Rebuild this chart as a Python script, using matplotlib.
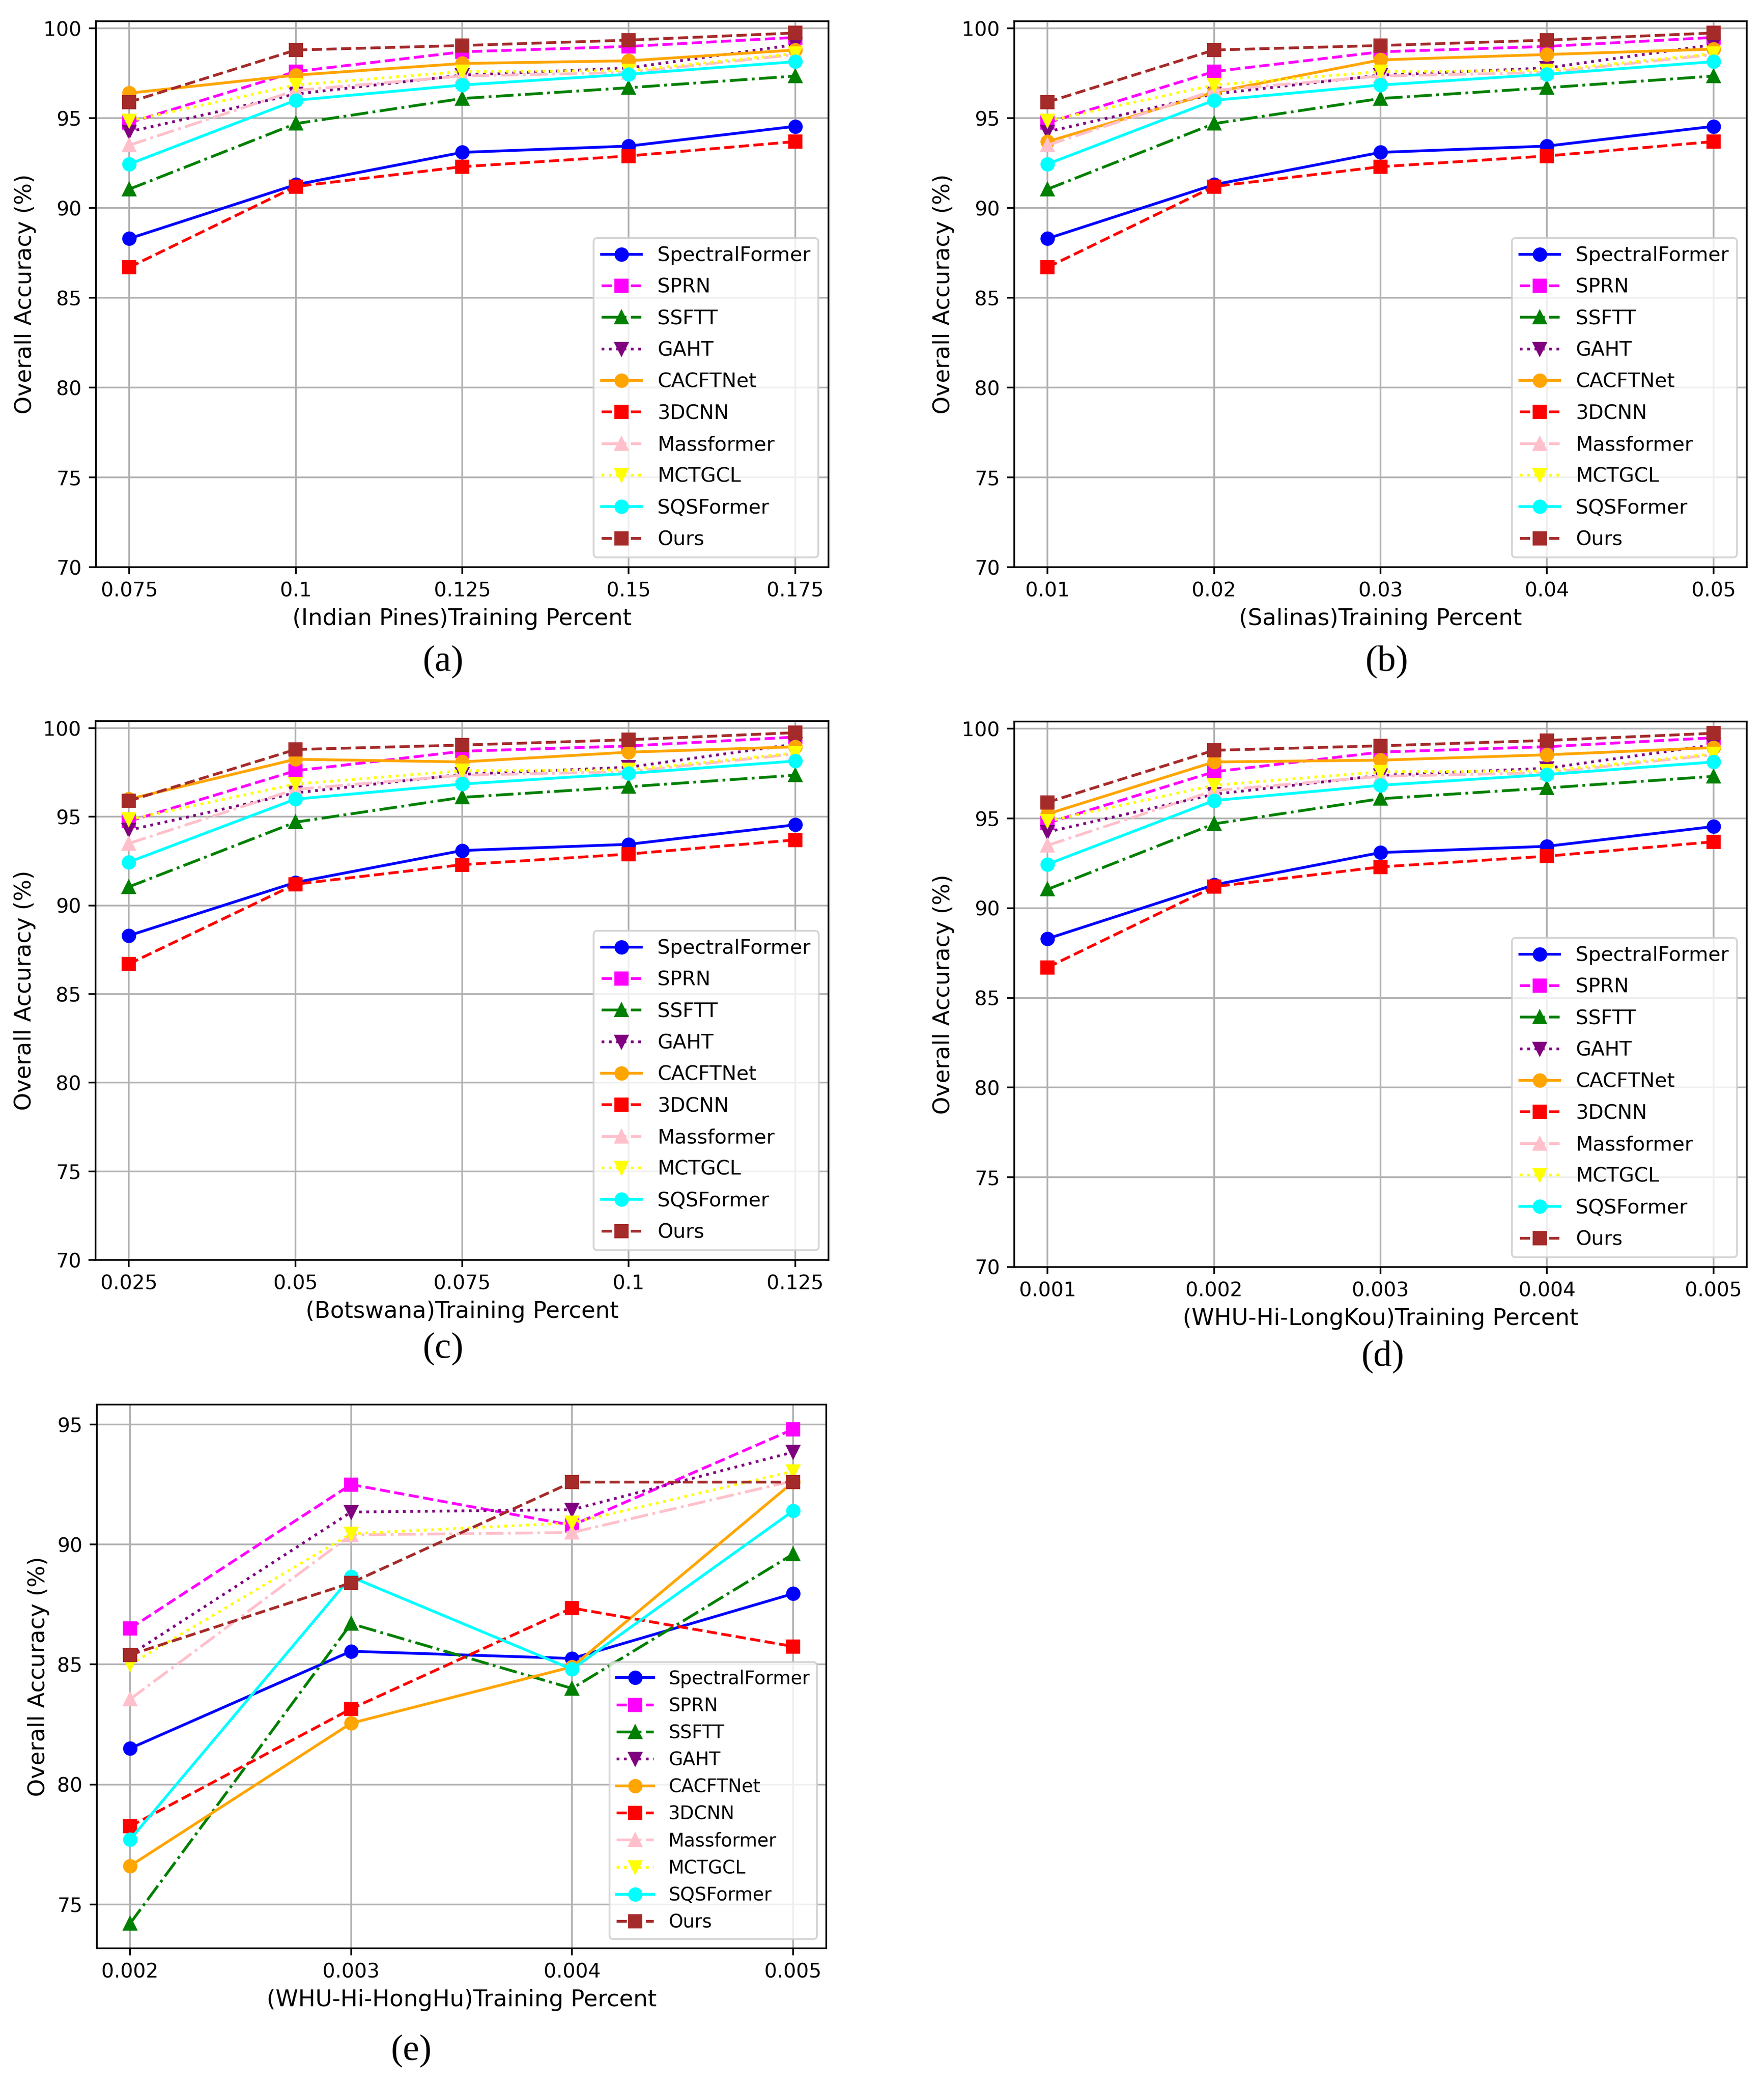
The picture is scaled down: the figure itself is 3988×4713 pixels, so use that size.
import matplotlib.pyplot as plt

# methods and their drawing style, same order as the legend
methods = ['SpectralFormer', 'SPRN', 'SSFTT', 'GAHT', 'CACFTNet', '3DCNN',
           'Massformer', 'MCTGCL', 'SQSFormer', 'Ours']
colors = ['blue', 'magenta', 'green', 'purple', 'orange', 'red',
          'pink', 'yellow', 'cyan', 'brown']
styles = ['-o', '--s', '-.^', ':v', '-o', '--s', '-.^', ':v', '-o', '--s']

# x values (tick labels) of each data set
x_indian = ['0.075', '0.1', '0.125', '0.15', '0.175']
x_salinas = ['0.01', '0.02', '0.03', '0.04', '0.05']
x_botswana = ['0.025', '0.05', '0.075', '0.1', '0.125']
x_longkou = ['0.001', '0.002', '0.003', '0.004', '0.005']
x_honghu = ['0.002', '0.003', '0.004', '0.005']

# series shared by panels (a)-(d)
spectralformer = [88.3, 91.3, 93.1, 93.45, 94.55]
sprn = [94.75, 97.6, 98.7, 99.0, 99.5]
ssftt = [91.05, 94.7, 96.1, 96.7, 97.35]
gaht = [94.25, 96.35, 97.4, 97.8, 99.1]
cnn3d = [86.7, 91.2, 92.3, 92.9, 93.7]
massformer = [93.5, 96.55, 97.35, 97.55, 98.55]
mctgcl = [94.85, 96.85, 97.6, 97.65, 98.6]
sqsformer = [92.45, 96.0, 96.85, 97.45, 98.15]
ours = [95.9, 98.8, 99.05, 99.35, 99.75]

# CACFTNet differs from panel to panel
cacft_indian = [96.4, 97.4, 98.05, 98.2, 98.8]
cacft_salinas = [93.7, 96.45, 98.25, 98.55, 98.85]
cacft_botswana = [96.0, 98.25, 98.1, 98.65, 98.95]
cacft_longkou = [95.25, 98.15, 98.25, 98.55, 98.95]

# WHU-Hi-HongHu
hh_spectralformer = [81.5, 85.55, 85.25, 87.95]
hh_sprn = [86.5, 92.5, 90.8, 94.8]
hh_ssftt = [74.2, 86.7, 84.0, 89.6]
hh_gaht = [85.4, 91.35, 91.45, 93.85]
hh_cacft = [76.6, 82.55, 84.9, 92.6]
hh_3dcnn = [78.25, 83.15, 87.35, 85.75]
hh_massformer = [83.55, 90.4, 90.5, 92.65]
hh_mctgcl = [85.0, 90.45, 90.9, 93.05]
hh_sqsformer = [77.7, 88.65, 84.8, 91.4]
hh_ours = [85.4, 88.4, 92.6, 92.6]

W, H = 3988, 4713
DPI = 300

plt.rcParams['xtick.labelsize'] = 10.8
plt.rcParams['ytick.labelsize'] = 10.8
plt.rcParams['axes.labelsize'] = 12.4
plt.rcParams['axes.linewidth'] = 0.9
plt.rcParams['grid.linewidth'] = 0.9
plt.rcParams['xtick.major.size'] = 3.9
plt.rcParams['ytick.major.size'] = 3.9
plt.rcParams['xtick.major.width'] = 0.9
plt.rcParams['ytick.major.width'] = 0.9
plt.rcParams['xtick.major.pad'] = 3.9
plt.rcParams['ytick.major.pad'] = 3.9
plt.rcParams['lines.linewidth'] = 1.5
plt.rcParams['lines.markersize'] = 6.8

fig = plt.figure(figsize=(W / DPI, H / DPI), dpi=DPI)


def panel(box, xlabels, series, xname, caption, cap_xy, low=70,
          legend_size=10.8, spacing=0.63):
    left, right, top, bottom = box
    ax = fig.add_axes([left / W, 1 - bottom / H, (right - left) / W, (bottom - top) / H])
    xs = [float(v) for v in xlabels]
    for name, col, st, vals in zip(methods, colors, styles, series):
        ax.plot(xs, vals, st, color=col, label=name)
    ax.set_xticks(xs, xlabels)
    if low is not None:
        ax.set_ylim(bottom=low)
    ax.grid(True)
    ax.set_xlabel(xname)
    ax.set_ylabel('Overall Accuracy (%)')
    ax.legend(loc='lower right', fontsize=legend_size, labelspacing=spacing)
    fig.text(cap_xy[0] / W, 1 - cap_xy[1] / H, caption, ha='center', va='center',
             family='Liberation Serif', fontsize=20)
    return ax


common = [spectralformer, sprn, ssftt, gaht, None, cnn3d, massformer, mctgcl, sqsformer, ours]


def with_cacft(c):
    s = list(common)
    s[4] = c
    return s


panel((217, 1873, 48, 1282), x_indian, with_cacft(cacft_indian),
      '(Indian Pines)Training Percent', '(a)', (1002, 1497))
panel((2293, 3949, 48, 1282), x_salinas, with_cacft(cacft_salinas),
      '(Salinas)Training Percent', '(b)', (3135, 1497))
panel((216, 1873, 1630, 2848), x_botswana, with_cacft(cacft_botswana),
      '(Botswana)Training Percent', '(c)', (1002, 3050))
panel((2293, 3949, 1631, 2864), x_longkou, with_cacft(cacft_longkou),
      '(WHU-Hi-LongKou)Training Percent', '(d)', (3126, 3068))
panel((219, 1868, 3175, 4404), x_honghu,
      [hh_spectralformer, hh_sprn, hh_ssftt, hh_gaht, hh_cacft, hh_3dcnn,
       hh_massformer, hh_mctgcl, hh_sqsformer, hh_ours],
      '(WHU-Hi-HongHu)Training Percent', '(e)', (930, 4637), low=None,
      legend_size=10.0, spacing=0.46)

fig.savefig('out.png', dpi=DPI)
